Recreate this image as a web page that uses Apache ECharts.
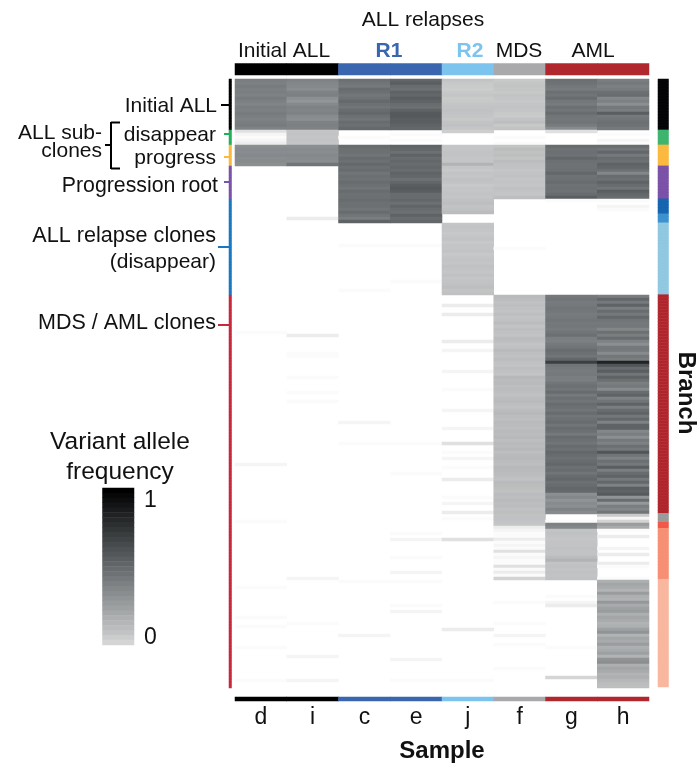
<!DOCTYPE html>
<html><head><meta charset="utf-8">
<style>html,body{margin:0;padding:0;background:#fff}#c{width:700px;height:767px}</style>
<script src="https://cdn.jsdelivr.net/npm/echarts@6/dist/echarts.min.js"></script>
</head><body><div id="c"></div>
<script>
// Samples
const samples = ['d','i','c','e','j','f','g','h'];
const sampleColors = ['#000000','#000000','#3a66b0','#3a66b0','#7cc4ee','#a9a9ab','#b0282e','#b0282e'];

// Branch (row groups): number of mutation rows in each branch
const branchCounts = [17,5,7,11,5,3,24,73,3,2,17,36];
const branchColors = ['#050508','#3db56f','#fbb940','#7b52a8','#1565b0','#3c92cf','#8fc8e0','#b0242c','#999b9b','#f2584a','#f78f75','#f9b7a0'];
const leftLineColors = ['#000000','#22b05a','#fbb940','#7b52a8','#1a78c2','#1a78c2','#1a78c2','#c8283c','#c8283c','#c8283c','#c8283c','#c8283c'];

// Variant allele frequency (percent) per sample, one line per branch block
const vafD = [
44,43,45,43,44,42,45,43,41,44,43,45,44,42,44,45,42,
4,2,1,2,3,
36,38,37,39,37,38,36,
0,0,0,0,0,0,0,0,0,0,0,
0,0,0,0,0,
0,0,0,
0,0,0,0,0,0,0,0,0,0,0,0,0,0,0,0,0,0,0,0,0,0,0,0,
0,0,0,0,0,0,0,0,0,0,
0,0,1,0,0,0,0,0,0,0,
0,0,0,0,0,0,0,0,0,0,
0,0,0,0,0,0,0,0,0,0,
0,0,0,0,0,0,0,0,0,0,
0,0,0,0,0,0,2,0,0,0,
0,0,0,0,0,0,0,0,0,0,
0,0,0,
0,0,1,
0,0,
0,0,0,0,0,0,0,0,0,0,0,0,0,0,0,0,0,
0,0,1,0,0,0,0,0,0,0,
0,0,1,0,0,1,0,0,0,0,
0,0,1,0,0,0,0,0,0,0,
0,0,0,1,0,0];

const vafI = [
42,40,39,37,42,43,36,33,39,42,41,42,38,36,42,43,42,
12,13,12,13,12,
36,38,37,39,38,37,48,
0,0,0,0,0,0,0,0,0,0,0,
0,0,0,0,0,
0,3,0,
0,0,0,0,0,0,0,0,0,0,0,0,0,0,0,0,0,0,0,0,0,0,0,0,
0,0,0,0,0,0,0,0,0,0,
0,0,0,3,0,0,0,0,0,1,
1,0,0,0,0,0,0,1,0,0,
0,0,1,0,0,1,0,0,0,0,
0,0,0,0,0,0,0,0,0,0,
0,0,0,0,0,0,0,0,0,0,
0,0,0,0,0,0,0,0,0,0,
0,0,0,
0,0,0,
0,0,
0,0,0,0,0,0,0,0,0,0,0,0,0,0,0,0,2,
0,0,0,0,0,0,0,0,0,0,
0,0,0,0,1,0,0,0,0,0,
0,0,0,0,0,2,0,0,0,0,
0,0,0,2,0,0];

const vafC = [
50,48,46,52,50,47,49,53,50,48,52,54,50,48,52,50,53,
0,0,1,0,0,
52,50,50,48,52,50,53,
50,52,48,50,49,52,50,48,52,50,50,
52,50,50,48,52,
48,44,56,
0,0,0,0,0,0,0,1,0,0,0,0,0,0,0,0,0,0,0,0,0,0,1,0,
0,0,0,0,0,0,0,0,0,0,
0,0,0,0,0,0,0,0,0,0,
0,0,0,0,0,0,0,0,0,0,
0,0,0,0,0,0,0,0,0,0,
0,0,2,0,0,0,0,0,0,1,
0,0,0,0,0,0,0,0,0,0,
0,0,0,0,0,0,0,0,0,0,
0,0,0,
0,0,0,
0,0,
0,0,0,0,0,0,0,0,0,0,0,0,0,0,0,0,0,
1,0,0,0,0,0,0,0,0,0,
0,0,0,0,0,0,0,0,2,0,
0,0,0,0,0,0,0,0,0,0,
0,0,0,0,0,0];

const vafE = [
55,58,52,50,56,54,58,56,52,50,56,60,60,58,58,56,54,
0,1,0,1,0,
56,54,50,56,52,54,52,
54,52,56,54,50,54,58,60,58,52,52,
54,50,55,52,50,
56,52,54,
0,0,0,0,0,0,0,1,0,0,0,0,0,0,0,0,0,0,0,1,0,0,0,0,
0,0,0,0,0,0,0,0,0,0,
0,0,0,0,0,0,0,0,0,0,
0,0,0,0,0,0,0,0,0,0,
0,0,0,0,0,0,0,0,0,0,
0,0,0,0,0,0,0,0,0,1,
0,0,0,0,0,0,0,0,0,1,
0,0,0,0,0,0,0,0,0,0,
0,0,0,
0,0,0,
0,0,
0,1,0,2,0,0,0,0,0,1,0,0,0,0,2,0,0,
1,0,0,0,0,0,0,0,1,0,
2,0,0,0,0,0,0,0,0,0,
0,0,0,0,0,0,2,0,0,0,
0,0,0,1,0,0];

const vafJ = [
13,11,10,9,11,12,10,11,12,13,14,13,12,11,13,14,12,
8,0,0,0,0,
12,12,13,13,12,12,20,
12,11,13,12,14,13,11,12,12,13,12,
14,15,13,14,16,
0,0,0,
12,13,12,11,12,13,11,12,12,13,11,12,13,12,14,13,12,14,12,13,14,15,13,14,
0,0,0,3,0,0,3,0,0,0,
0,0,0,0,0,3,0,0,2,0,
0,0,0,0,0,2,0,0,0,0,
0,1,0,0,0,0,0,0,2,0,
0,0,0,0,2,0,0,0,0,4,
0,0,1,0,2,0,0,1,0,0,
0,3,0,0,0,0,0,1,0,2,
0,0,3,
0,1,0,
0,0,
0,0,0,4,0,0,0,0,0,0,0,0,0,0,0,0,0,
0,0,0,0,0,0,0,0,0,0,
0,0,0,0,0,0,3,0,0,0,
0,0,0,0,0,0,0,0,0,0,
0,0,0,1,0,0];

const vafF = [
11,12,13,12,11,13,12,11,12,13,12,11,10,13,15,11,13,
0,0,1,0,1,
13,16,14,15,13,16,14,
14,12,13,14,12,13,12,14,13,12,15,
0,0,0,0,0,
0,0,0,
0,0,0,0,0,0,0,0,1,0,0,0,0,0,0,0,0,0,0,0,0,0,0,0,
17,16,14,15,14,13,15,13,14,16,
13,15,14,13,16,15,13,14,17,15,
14,16,14,13,15,14,13,18,16,17,
15,16,15,14,16,17,15,14,16,18,
16,15,17,16,15,17,16,18,15,17,
16,18,15,17,18,16,15,18,17,16,
15,14,17,16,15,14,16,15,17,15,
16,14,15,
14,14,13,
12,3,
2,1,1,3,1,2,1,4,1,2,1,1,4,1,3,1,6,
0,0,0,0,0,0,0,1,0,0,
0,0,0,0,1,0,0,0,2,0,
0,1,0,0,0,0,0,0,0,1,
0,0,0,0,0,0];

const vafG = [
50,49,47,45,50,48,52,47,45,50,48,52,48,47,48,45,38,
4,0,0,0,0,
52,49,50,49,54,50,49,
49,50,54,49,50,52,49,50,49,52,58,
1,0,0,0,0,
0,0,0,
0,0,0,0,0,0,0,0,0,0,0,0,0,0,0,0,0,0,0,0,0,0,0,0,
46,48,45,46,48,47,45,46,48,46,
47,45,48,50,44,43,46,48,52,50,
48,54,72,48,46,45,46,44,44,48,
50,48,52,46,50,48,52,50,48,52,
48,50,52,48,52,50,46,52,50,48,
52,50,54,52,50,52,54,50,52,48,
52,54,50,52,54,53,36,40,34,38,
36,42,38,
0,0,1,
42,40,
13,14,13,12,13,13,14,13,13,16,20,13,14,13,14,13,14,
0,0,0,0,0,1,0,2,3,0,
0,0,0,0,0,0,0,0,0,0,
0,0,1,0,0,0,0,0,0,0,
0,0,5,0,0,0];

const vafH = [
44,46,43,45,50,52,40,43,36,46,44,58,46,48,50,49,46,
0,1,0,2,1,
52,48,54,46,52,50,56,
54,50,40,52,50,56,52,48,58,54,52,
1,0,2,1,0,
0,0,0,
0,0,0,0,0,0,0,0,0,0,0,0,0,0,0,0,0,0,0,0,0,0,0,0,
44,54,46,56,44,52,46,54,48,46,
47,40,50,44,52,42,36,46,46,38,
47,44,85,62,52,58,48,56,50,44,
46,38,52,56,42,48,56,44,52,56,
47,54,42,56,56,40,44,36,46,42,
50,46,62,48,42,50,46,58,44,52,
56,46,54,42,58,56,60,34,52,32,
44,40,48,
10,2,6,
30,24,
1,0,3,0,0,0,2,0,3,0,0,3,1,0,0,0,1,
22,26,24,20,30,22,20,32,24,28,
30,22,26,24,20,22,28,34,20,26,
24,30,22,24,28,20,34,36,22,26,
24,20,22,18,16,15];

const vafBySample = [vafD,vafI,vafC,vafE,vafJ,vafF,vafG,vafH];

// Legend ramp (percent), top to bottom
const legendRamp = [100,97,94,91,88,85,82,79,76,73,70,67,64,61,58,55,52,49,46,43,40,37,34,31,28,25,22,19,16,13,9,5];
const legendLabels = ['1','0'];

const FONT = '"Liberation Sans", Arial, sans-serif';
const rowNames = vafD.map((_, i) => String(i));
const rowBranch = branchCounts.flatMap((n, b) => new Array(n).fill(b));

// colour table, one stop per percent: absent = white, 5% = lightest legend grey, 100% = black
const lowGreys = [255,251,245,236,224];
const ramp = [];
for (let p = 0; p <= 100; p++) {
  if (p < 5) { const g = lowGreys[p]; ramp.push(`rgb(${g},${g},${g})`); continue; }
  const t = (100 - p) / 95;
  const g = 213 * t, tint = t * (1 - t);
  ramp.push(`rgb(${Math.round(g - 16 * tint)},${Math.round(g)},${Math.round(g + 8 * tint)})`);
}

const heat = [];
vafBySample.forEach((col, x) => col.forEach((v, y) => { if (v > 0) heat.push([x, y, v]); }));

const baseAxis = {axisLine:{show:false},axisTick:{show:false},axisLabel:{show:false},splitLine:{show:false}};

function sideBar(gridIndex, colors) {
  return {type:'heatmap',xAxisIndex:gridIndex,yAxisIndex:gridIndex,silent:true,
    data: rowBranch.map((b, r) => ({value:[0, r, b], itemStyle:{color:colors[b]}}))};
}
function sampleBar(gridIndex) {
  return {type:'heatmap',xAxisIndex:gridIndex,yAxisIndex:gridIndex,silent:true,
    data: samples.map((s, i) => ({value:[i, 0, i], itemStyle:{color:sampleColors[i]}}))};
}

function txt(text, x, y, align, size, extra) {
  return {type:'text',x:x,y:y,silent:true,style:Object.assign({text:text,fill:'#111',font:`${size||21}px ${FONT}`,align:align||'right',verticalAlign:'middle'},extra||{})};
}
function seg(x1,y1,x2,y2,color,w){
  return {type:'line',silent:true,shape:{x1,y1,x2,y2},style:{stroke:color,lineWidth:w||2}};
}

const option = {
  backgroundColor:'#ffffff',
  animation:false,
  grid:[
    {left:235,top:79,width:414,height:609,outerBoundsMode:'none'},
    {left:235,top:63.5,width:414,height:11.5,outerBoundsMode:'none'},
    {left:235,top:697,width:414,height:4,outerBoundsMode:'none'},
    {left:658,top:79,width:10.5,height:608,outerBoundsMode:'none'},
    {left:229,top:79,width:2.5,height:609,outerBoundsMode:'none'},
    {left:102.5,top:488,width:31.5,height:157,outerBoundsMode:'none'}
  ],
  xAxis:[
    Object.assign({type:'category',gridIndex:0,data:samples},baseAxis),
    Object.assign({type:'category',gridIndex:1,data:samples},baseAxis),
    Object.assign({},baseAxis,{type:'category',gridIndex:2,data:samples,
      axisLabel:{show:true,margin:5,color:'#111',fontSize:23,fontFamily:FONT,interval:0},
      name:'Sample',nameLocation:'middle',nameGap:38,
      nameTextStyle:{color:'#111',fontSize:24,fontWeight:'bold',fontFamily:FONT}}),
    Object.assign({type:'category',gridIndex:3,data:['b']},baseAxis),
    Object.assign({type:'category',gridIndex:4,data:['b']},baseAxis),
    Object.assign({type:'category',gridIndex:5,data:['v']},baseAxis)
  ],
  yAxis:[
    Object.assign({type:'category',gridIndex:0,data:rowNames,inverse:true},baseAxis),
    Object.assign({type:'category',gridIndex:1,data:['s']},baseAxis),
    Object.assign({type:'category',gridIndex:2,data:['s']},baseAxis),
    Object.assign({type:'category',gridIndex:3,data:rowNames,inverse:true},baseAxis),
    Object.assign({type:'category',gridIndex:4,data:rowNames,inverse:true},baseAxis),
    Object.assign({},baseAxis,{type:'category',gridIndex:5,data:legendRamp.map(String),inverse:true,position:'right',
      axisLabel:{show:true,interval:0,margin:10,color:'#111',fontSize:23,fontFamily:FONT,
        formatter:(v,i)=> i===2 ? legendLabels[0] : (i===30 ? legendLabels[1] : '')}})
  ],
  visualMap:[{type:'continuous',show:false,min:0,max:100,seriesIndex:[0,1],dimension:2,inRange:{color:ramp}}],
  series:[
    {type:'heatmap',xAxisIndex:0,yAxisIndex:0,silent:true,data:heat},
    {type:'heatmap',xAxisIndex:5,yAxisIndex:5,silent:true,data:legendRamp.map((v,i)=>[0,i,v])},
    sampleBar(1),
    sampleBar(2),
    sideBar(3,branchColors),
    sideBar(4,leftLineColors)
  ],
  graphic:[
    txt('ALL relapses',423,20,'center'),
    txt('Initial ALL',284,51,'center'),
    txt('R1',389,51,'center',21,{font:`bold 21px ${FONT}`,fill:'#3a66b0'}),
    txt('R2',470,51,'center',21,{font:`bold 21px ${FONT}`,fill:'#7cc4ee'}),
    txt('MDS',519,51,'center'),
    txt('AML',593,51,'center'),
    txt('Initial ALL',217,106),
    txt('disappear',216,135),
    txt('progress',216,158),
    txt('ALL sub-',102,133),
    txt('clones',102,151),
    txt('Progression root',218,186,'right',21.3),
    txt('ALL relapse clones',216,236,'right',21.6),
    txt('(disappear)',216,262),
    txt('MDS / AML clones',216,323,'right',21.5),
    txt('Variant allele',120,442,'center',24.5),
    txt('frequency',120,472,'center',24.5),
    {type:'text',x:686,y:393,rotation:-Math.PI/2,silent:true,
      style:{text:'Branch',fill:'#111',font:`bold 24px ${FONT}`,align:'center',verticalAlign:'middle'}},
    seg(221,105,230,105,'#000'),
    seg(224,134,230,134,'#22b05a'),
    seg(224,157,230,157,'#fbb940'),
    seg(224,182,230,182,'#7b52a8'),
    seg(218,247,230,247,'#1a78c2'),
    seg(218,325,230,325,'#c8283c'),
    seg(120,122.5,111,122.5,'#000'),
    seg(111,122,111,169,'#000'),
    seg(111,168.5,120,168.5,'#000'),
    seg(105,145,111,145,'#000')
  ]
};
echarts.init(document.getElementById('c'),null,{renderer:'canvas'}).setOption(option);
</script></body></html>
